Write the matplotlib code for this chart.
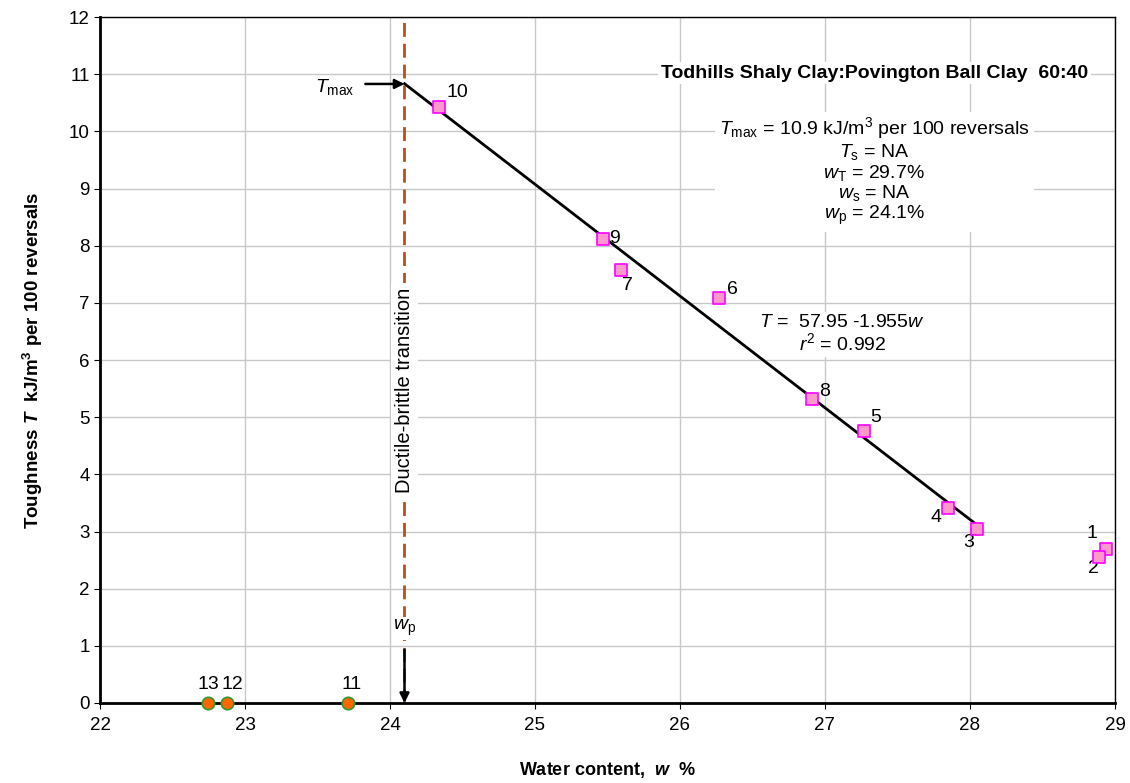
import matplotlib
matplotlib.use("Agg")
import matplotlib.pyplot as plt
from matplotlib import font_manager

plt.rcParams['font.family'] = ['Liberation Sans', 'DejaVu Sans']
plt.rcParams['mathtext.fontset'] = 'custom'
plt.rcParams['mathtext.rm'] = 'Liberation Sans'
plt.rcParams['mathtext.it'] = 'Liberation Sans:italic'
plt.rcParams['mathtext.bf'] = 'Liberation Sans:bold'
plt.rcParams['mathtext.bfit'] = 'Liberation Sans:bold:italic'

# data
w_ductile = [28.94, 28.89, 28.05, 27.85, 27.27, 26.27, 25.59, 26.91, 25.47, 24.34]
T_ductile = [2.70, 2.56, 3.05, 3.41, 4.75, 7.08, 7.57, 5.32, 8.11, 10.42]
lab_ductile = ['1', '2', '3', '4', '5', '6', '7', '8', '9', '10']
w_brittle = [23.71, 22.876, 22.745]
T_brittle = [0, 0, 0]
lab_brittle = ['11', '12', '13']

fit_a = 57.95
fit_b = -1.955
fit_w = [24.1, 28.06]
w_p = 24.1
T_max = 10.83

# label offsets in pixels
off_ductile = [(-14, 15), (-6, -12), (-9, -14), (-12, -9), (12, 14),
               (13, 9), (7, -15), (13, 7), (11, 1), (18, 15)]
off_brittle = [(4, 18), (5, 18), (0, 18)]

fs = 14

# the y label uses a narrow font in the original
names = set(f.name for f in font_manager.fontManager.ttflist)
if 'Liberation Sans Narrow' in names:
    ylab_family, ylab_size = ['Liberation Sans Narrow', 'DejaVu Sans'], 15
else:
    ylab_family, ylab_size = ['Liberation Sans', 'DejaVu Sans'], 13.5

fig = plt.figure(figsize=(11.3, 7.83), dpi=100)
ax = fig.add_axes([0.0885, 0.1022, 0.8982, 0.876])

ax.set_xlim(22, 29)
ax.set_ylim(0, 12)
ax.set_xticks(range(22, 30))
ax.set_yticks(range(0, 13))
ax.grid(True, color='#c8c8c8', lw=1)
ax.set_axisbelow(True)
ax.tick_params(direction='out', length=4, labelsize=13.5, colors='black')
ax.tick_params(axis='x', pad=6)
for s in ['left', 'bottom']:
    ax.spines[s].set_linewidth(2)
for s in ['top', 'right']:
    ax.spines[s].set_linewidth(1)

# plastic limit line
ax.axvline(w_p, color='#b5501e', lw=2, dashes=(5, 2.5), zorder=2)

# regression line
fit_T = [fit_a + fit_b * w for w in fit_w]
ax.plot(fit_w, fit_T, color='black', lw=2, zorder=3)

ax.scatter(w_ductile, T_ductile, marker='s', s=80, facecolor='#ff99cc',
           edgecolor='#ff00ff', lw=1.2, zorder=5, clip_on=False)
ax.scatter(w_brittle, T_brittle, marker='o', s=80, facecolor='#ff6600',
           edgecolor='#339933', lw=1.2, zorder=5, clip_on=False)

for w, T, l, o in zip(w_ductile, T_ductile, lab_ductile, off_ductile):
    ax.annotate(l, (w, T), xytext=o, textcoords='offset pixels',
                ha='center', va='center', fontsize=fs)
for w, T, l, o in zip(w_brittle, T_brittle, lab_brittle, off_brittle):
    ax.annotate(l, (w, T), xytext=o, textcoords='offset pixels',
                ha='center', va='center', fontsize=fs)

# arrows
ax.annotate('', xy=(w_p, T_max), xytext=(23.83, T_max),
            arrowprops=dict(arrowstyle='-|>', color='black', lw=1.8,
                            mutation_scale=14, shrinkA=0, shrinkB=0), zorder=6)
ax.text(23.62, 10.77, r'$T_{\rm max}$', ha='center', va='center', fontsize=fs)
ax.annotate('', xy=(w_p, 0), xytext=(w_p, 0.93),
            arrowprops=dict(arrowstyle='-|>', color='black', lw=1.8,
                            mutation_scale=14, shrinkA=0, shrinkB=0), zorder=6)
ax.text(w_p, 1.31, r'$w_{\rm p}$', ha='center', va='center', fontsize=fs,
        bbox=dict(facecolor='white', edgecolor='none', pad=1))

ax.text(w_p, 5.47, 'Ductile-brittle transition', rotation=90, ha='center',
        va='center', fontsize=14.5, zorder=4,
        bbox=dict(facecolor='white', edgecolor='none', pad=3))

# equation (kept under the fit line)
ax.text(27.12, 6.45, '$T$ =  57.95 -1.955$w$\n$r^2$ = 0.992', ha='center',
        va='center', fontsize=fs, linespacing=1.05, zorder=2.5,
        bbox=dict(facecolor='white', edgecolor='none', pad=2))

# info box
ax.text(27.34, 11.02, 'Todhills Shaly Clay:Povington Ball Clay  60:40',
        ha='center', va='center', fontsize=fs, fontweight='bold',
        bbox=dict(facecolor='white', edgecolor='none', pad=2))
info = ('$T_{\\rm max}$ = 10.9 kJ/m$^3$ per 100 reversals\n'
        '$T_{\\rm s}$ = NA\n'
        '$w_{\\rm T}$ = 29.7%\n'
        '$w_{\\rm s}$ = NA\n'
        '$w_{\\rm p}$ = 24.1%')
ax.text(27.34, 9.3, info, ha='center', va='center', fontsize=fs,
        linespacing=1.05, bbox=dict(facecolor='white', edgecolor='none', pad=3))

ax.set_xlabel('Water content,  $\\mathbfit{w}$  %', fontsize=13,
              fontweight='bold', labelpad=19)
ax.set_ylabel('Toughness $\\mathbfit{T}$  kJ/m$^\\mathbf{3}$ per 100 reversals',
              fontsize=ylab_size, fontweight='bold', labelpad=17,
              family=ylab_family)

fig.savefig('out.png', dpi=100)
